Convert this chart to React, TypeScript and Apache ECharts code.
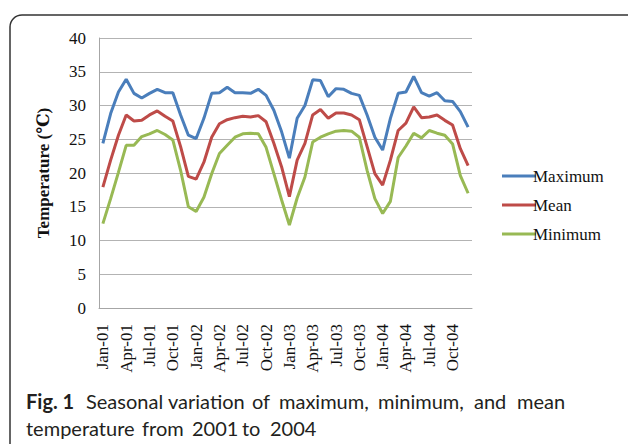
import React, { useEffect, useRef } from "react";
import * as echarts from "echarts";

const monthNames = ["Jan", "Feb", "Mar", "Apr", "May", "Jun", "Jul", "Aug", "Sep", "Oct", "Nov", "Dec"];
const years = ["01", "02", "03", "04"];
const categories: string[] = years.flatMap((y) => monthNames.map((m) => `${m}-${y}`));

const maximum = [
  24.4, 28.8, 32.0, 33.9, 31.8, 31.1, 31.8, 32.4, 31.9, 31.9, 28.6, 25.6,
  25.1, 28.1, 31.8, 31.9, 32.7, 31.9, 31.9, 31.8, 32.4, 31.5, 29.3, 26.1,
  22.2, 28.1, 30.0, 33.8, 33.7, 31.3, 32.5, 32.4, 31.8, 31.5, 28.6, 25.3,
  23.4, 28.1, 31.8, 32.0, 34.3, 31.9, 31.4, 31.9, 30.7, 30.6, 29.1, 26.8,
];
const mean = [
  17.9, 21.9, 25.6, 28.6, 27.7, 27.8, 28.6, 29.2, 28.4, 27.7, 23.9, 19.5,
  19.1, 21.6, 25.3, 27.3, 27.9, 28.2, 28.4, 28.3, 28.5, 27.6, 24.4, 20.9,
  16.5, 21.9, 24.4, 28.6, 29.4, 28.1, 28.9, 28.9, 28.6, 27.9, 23.9, 19.9,
  18.2, 21.9, 26.3, 27.4, 29.8, 28.2, 28.3, 28.6, 27.8, 27.1, 23.6, 21.1,
];
const minimum = [
  12.5, 16.2, 20.1, 24.1, 24.1, 25.4, 25.8, 26.3, 25.7, 24.9, 20.4, 15.0,
  14.3, 16.4, 19.9, 22.9, 24.1, 25.3, 25.8, 25.9, 25.8, 23.8, 19.9, 16.0,
  12.3, 16.3, 19.4, 24.6, 25.3, 25.8, 26.2, 26.3, 26.2, 25.3, 20.4, 16.2,
  14.0, 15.8, 22.3, 24.0, 25.9, 25.2, 26.3, 25.9, 25.6, 24.3, 19.6, 17.0,
];

const seriesNames = ["Maximum", "Mean", "Minimum"];
const seriesColors = ["#4A7EBB", "#BE4B48", "#98B954"];

const captionLine1 = [
  { t: "Fig. 1", x: 26, bold: true },
  { t: "Seasonal", x: 86 },
  { t: "variation", x: 168 },
  { t: "of", x: 252 },
  { t: "maximum,", x: 279 },
  { t: "minimum,", x: 378 },
  { t: "and", x: 474 },
  { t: "mean", x: 517 },
];
const captionLine2 = [
  { t: "temperature", x: 26 },
  { t: "from", x: 142 },
  { t: "2001", x: 192 },
  { t: "to", x: 242 },
  { t: "2004", x: 270 },
];

const serif = "'Liberation Serif', 'Times New Roman', 'DejaVu Serif', serif";
const sans = "Lato, 'Open Sans', sans-serif";

export default function App() {
  const ref = useRef<HTMLDivElement>(null);
  useEffect(() => {
    if (!ref.current) return;
    const chart = echarts.init(ref.current, undefined, { renderer: "svg" });
    const captionText = (items: any[], y: number) =>
      items.map((w) => ({
        type: "text",
        left: w.x,
        top: y,
        style: {
          text: w.t,
          font: `${w.bold ? "bold " : ""}20px ${sans}`,
          fill: "#231f20",
        },
      }));
    chart.setOption({
      animation: false,
      backgroundColor: "#ffffff",
      grid: { left: 99, right: 156, top: 38, bottom: 136, containLabel: false },
      legend: {
        orient: "vertical",
        left: 497,
        top: 161,
        itemGap: 9,
        itemWidth: 34,
        itemHeight: 3,
        icon: "rect",
        data: seriesNames,
        textStyle: { fontFamily: serif, fontSize: 17, color: "#111", lineHeight: 20, padding: [0, 0, 0, -8] },
      },
      xAxis: {
        type: "category",
        data: categories,
        boundaryGap: true,
        axisLine: { lineStyle: { color: "#a6a6a6", width: 1 } },
        axisTick: { show: false },
        axisLabel: {
          interval: 2,
          rotate: 90,
          margin: 16,
          fontFamily: serif,
          fontSize: 17,
          color: "#111",
        },
      },
      yAxis: {
        type: "value",
        min: 0,
        max: 40,
        interval: 5,
        name: "Temperature (℃)",
        nameLocation: "middle",
        nameRotate: 90,
        nameGap: 47,
        nameTextStyle: { fontFamily: serif, fontSize: 17, fontWeight: "bold", color: "#111" },
        axisLine: { show: true, lineStyle: { color: "#a6a6a6", width: 1 } },
        axisTick: { show: false },
        splitLine: { lineStyle: { color: "#b3b3b3", width: 1 } },
        axisLabel: { fontFamily: serif, fontSize: 17, color: "#111", margin: 13 },
      },
      series: [maximum, mean, minimum].map((d, i) => ({
        name: seriesNames[i],
        type: "line",
        data: d,
        symbol: "none",
        color: seriesColors[i],
        lineStyle: { width: 3, color: seriesColors[i] },
      })),
      graphic: [
        {
          type: "rect",
          shape: { x: 10, y: 15, width: 700, height: 500, r: 12 },
          style: { fill: "none", stroke: "#333", lineWidth: 1.5 },
          silent: true,
        },
        ...captionText(captionLine1, 391),
        ...captionText(captionLine2, 418),
      ],
    });
    return () => chart.dispose();
  }, []);
  return (
    <div style={{ position: "fixed", left: 0, top: 0, width: 628, height: 444, background: "#fff" }}>
      <div ref={ref} style={{ width: 628, height: 444 }} />
    </div>
  );
}
